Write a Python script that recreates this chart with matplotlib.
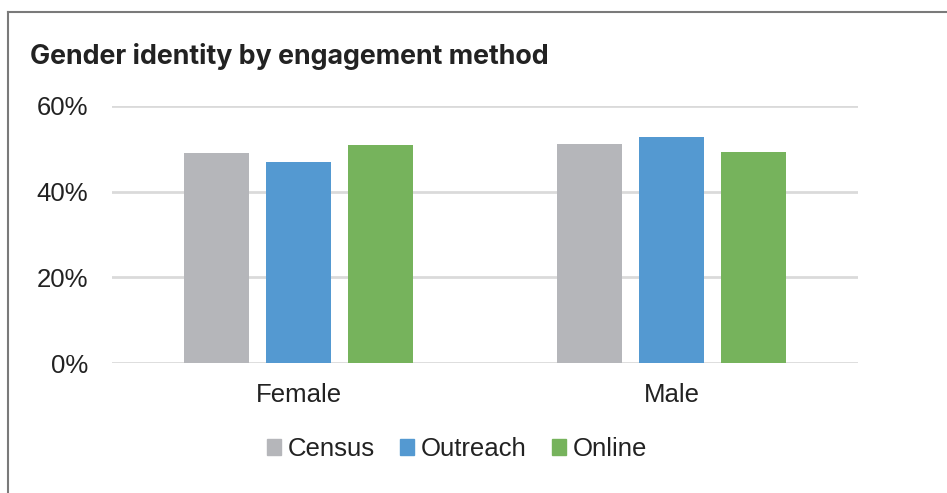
import numpy as np
import matplotlib.pyplot as plt
from matplotlib.lines import Line2D
from matplotlib.patches import Patch

categories = ['Female', 'Male']
census = [49.0, 51.0]
outreach = [47.0, 52.7]
online = [50.8, 49.2]
series_names = ['Census', 'Outreach', 'Online']
colors = ['#B5B6BA', '#5499D1', '#76B35C']
yticks = [0, 20, 40, 60]

plt.rcParams['font.family'] = ['Liberation Sans', 'DejaVu Sans']

fig = plt.figure(figsize=(9.47, 4.93), dpi=100)
ax = fig.add_axes([112 / 947, 1 - 363.3 / 493, 746 / 947, 257.6 / 493])

x = np.arange(len(categories))
w = 0.174
off = 0.221
for i, vals in enumerate([census, outreach, online]):
    ax.bar(x + (i - 1) * off, vals, width=w, color=colors[i], zorder=3)

ax.set_xlim(-0.5, 1.5)
ax.set_ylim(0, 60)
ax.set_yticks(yticks)
ax.set_yticklabels([f'{t}%' for t in yticks])
ax.set_xticks(x)
ax.set_xticklabels(categories)
ax.tick_params(length=0, labelsize=18.5, colors='#222222')
ax.tick_params(axis='y', pad=17)
ax.tick_params(axis='x', pad=14)
ax.grid(axis='y', color='#DADADA', linewidth=2, zorder=0)
for s in ax.spines.values():
    s.set_visible(False)

fig.text(30 / 947, 1 - 57 / 493, 'Gender identity by engagement method',
         fontsize=19.3, fontweight='bold', color='#222222',
         family=['Inter', 'DejaVu Sans'], va='center', ha='left')

handles = [Patch(color=c) for c in colors]
fig.legend(handles, series_names, loc='center', bbox_to_anchor=(457 / 947, 1 - 449 / 493),
           ncol=3, frameon=False, fontsize=18.5, handlelength=0.55, handleheight=0.55,
           handletextpad=0.25, columnspacing=1.0, labelcolor='#222222')

# frame lines
fig.add_artist(Line2D([8 / 947, 8 / 947], [0, 1 - 12 / 493], color='#7A7A7A', linewidth=1.5))
fig.add_artist(Line2D([8 / 947, 1], [1 - 12 / 493, 1 - 12 / 493], color='#7A7A7A', linewidth=1.5))

fig.savefig('out.png', dpi=100)
